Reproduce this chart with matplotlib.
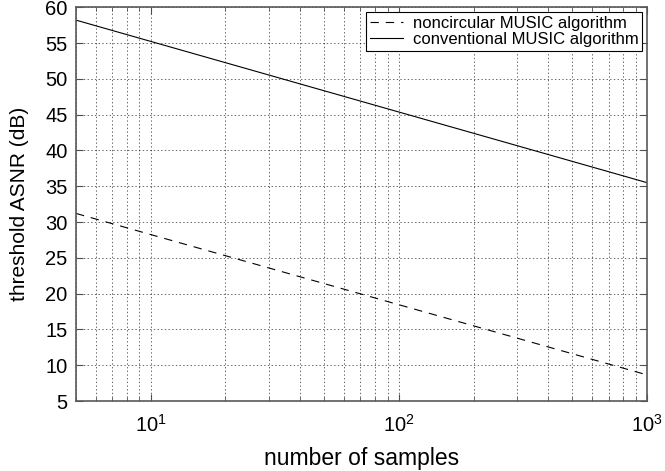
import numpy as np
import matplotlib
matplotlib.use('Agg')
import matplotlib.pyplot as plt
from matplotlib.ticker import LogLocator, NullFormatter

# endpoints (lines are straight on the log axis)
samples = [5, 1000]
asnr_nc = [31.2, 8.65]      # noncircular MUSIC
asnr_conv = [58.2, 35.5]    # conventional MUSIC
yticks = [5, 10, 15, 20, 25, 30, 35, 40, 45, 50, 55, 60]

plt.rcParams['font.family'] = ['Liberation Sans', 'DejaVu Sans']
plt.rcParams['lines.scale_dashes'] = False

fig = plt.figure(figsize=(6.65, 4.71), dpi=100)
ax = fig.add_axes([0.1143, 0.1486, 0.8587, 0.836])

ax.plot(samples, asnr_nc, color='k', lw=0.8, dashes=(6, 5),
        label='noncircular MUSIC algorithm')
ax.plot(samples, asnr_conv, color='k', lw=0.8,
        label='conventional MUSIC algorithm')

ax.set_xscale('log')
ax.set_xlim(5, 1000)
ax.set_ylim(5, 60)
ax.set_yticks(yticks)
ax.xaxis.set_major_locator(LogLocator(base=10, numticks=10))
ax.xaxis.set_minor_locator(LogLocator(base=10, subs=np.arange(2, 10), numticks=20))
ax.xaxis.set_minor_formatter(NullFormatter())

ax.grid(True, which='major', color='k', ls=':', lw=0.7, alpha=0.6)
ax.grid(True, which='minor', axis='x', color='k', ls=':', lw=0.7, alpha=0.6)

ax.tick_params(which='both', direction='in', top=True, right=True,
               labelsize=14.5, color='0.3')
ax.tick_params(which='major', length=5)
ax.tick_params(which='minor', length=3)
ax.tick_params(axis='x', pad=9)
ax.tick_params(axis='y', pad=6)
for s in ax.spines.values():
    s.set_color('0.35')
    s.set_linewidth(1.2)

ax.set_xlabel('number of samples', fontsize=16.5, labelpad=8)
ax.set_ylabel('threshold ASNR (dB)', fontsize=15, labelpad=12)

leg = ax.legend(loc='upper right', fontsize=12, fancybox=False, framealpha=1,
                edgecolor='k', borderaxespad=0.3, handlelength=2.0,
                handletextpad=0.6, labelspacing=0.1, borderpad=0.2)
leg.get_frame().set_linewidth(0.8)

fig.savefig('out.png', dpi=100)
